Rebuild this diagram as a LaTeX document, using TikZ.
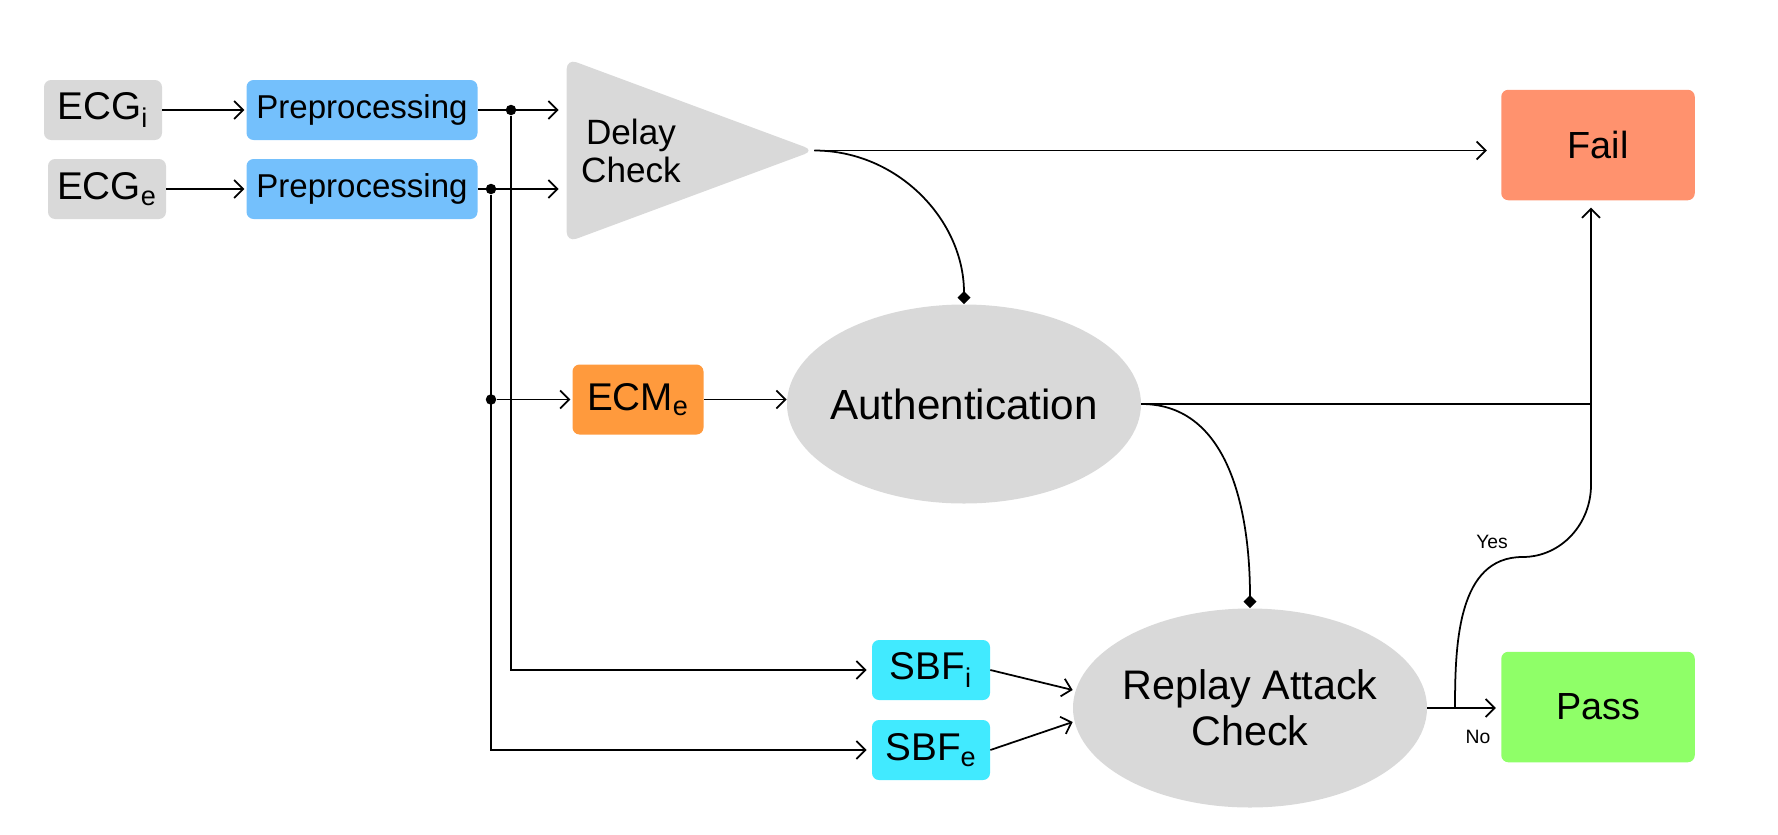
\documentclass[tikz,border=0pt]{standalone}
\usepackage{fontspec}
\setmainfont{Liberation Sans}
\usetikzlibrary{arrows.meta, shapes.geometric}

\definecolor{boxgray}{HTML}{D9D9D9}
\definecolor{preblue}{HTML}{74C0FC}
\definecolor{ecmorange}{HTML}{FF9A3D}
\definecolor{sbfcyan}{HTML}{41EAFF}
\definecolor{failred}{HTML}{FF926E}
\definecolor{passgreen}{HTML}{8FFF68}

\begin{document}
\begin{tikzpicture}[
    signal/.style={rectangle, rounded corners=4pt, inner sep=0pt, minimum width=2.36cm, minimum height=1.2cm, font=\fontsize{22}{26}\selectfont},
    prep/.style={rectangle, rounded corners=4pt, fill=preblue, inner sep=0pt, minimum width=4.62cm, minimum height=1.2cm, font=\fontsize{18.8}{22}\selectfont},
    result/.style={rectangle, rounded corners=4pt, inner sep=0pt, minimum width=3.87cm, minimum height=2.21cm, font=\fontsize{21.5}{26}\selectfont},
    check/.style={ellipse, fill=boxgray, inner xsep=-0.4cm, inner ysep=0pt, minimum width=7.08cm, minimum height=3.98cm, align=center, font=\fontsize{23.5}{26}\selectfont},
    arrow/.style={-{Straight Barb[length=1.8mm,width=3.6mm]}, line width=1pt},
    tap/.style={-{Diamond[length=2.6mm,width=2.6mm]}, line width=1pt},
    line/.style={line width=1pt},
    dot/.style={circle, fill=black, inner sep=0pt, minimum size=2.1mm},
    branch/.style={font=\fontsize{11}{13}\selectfont}
]
    \useasboundingbox (0,0) rectangle (35.56,-16.68);

    % Inputs and preprocessing
    \node[signal, fill=boxgray] (ecgi) at (2.06,-2.20) {ECG\textsubscript{i}};
    \node[signal, fill=boxgray] (ecge) at (2.14,-3.78) {ECG\textsubscript{e}};
    \node[prep] (prei) at (7.24,-2.20) {Preprocessing};
    \node[prep] (pree) at (7.24,-3.78) {Preprocessing};

    % Delay check triangle (text sits left of centre)
    \node[minimum width=4.94cm, minimum height=3.66cm, inner sep=0pt] (delay) at (13.81,-3.01) {};
    \fill[boxgray, rounded corners=6pt] (delay.north west) -- (delay.east) -- (delay.south west) -- cycle;
    \node[align=center, font=\fontsize{20}{22}\selectfont] (delaytxt) at (12.62,-3.02) {Delay\\Check};

    % Checks and outcomes
    \node[signal, fill=ecmorange, minimum width=2.62cm, minimum height=1.4cm] (ecm) at (12.76,-7.99) {ECM\textsubscript{e}};
    \node[check, font=\fontsize{24}{26}\selectfont] (auth) at (19.28,-8.08) {Authentication};
    \node[signal, fill=sbfcyan] (sbfi) at (18.62,-13.40) {SBF\textsubscript{i}};
    \node[signal, fill=sbfcyan] (sbfe) at (18.62,-15.00) {SBF\textsubscript{e}};
    \node[check] (replay) at (25.00,-14.16) {Replay Attack\\Check};
    \node[result, fill=failred] (fail) at (31.96,-2.90) {Fail};
    \node[result, fill=passgreen] (pass) at (31.96,-14.14) {Pass};

    % Junctions
    \node[dot] (ji) at (10.22,-2.20) {};
    \node[dot] (je) at (9.82,-3.78) {};
    \node[dot] (jm) at (9.82,-7.99) {};
    \coordinate (split) at (29.10,-14.16);
    \coordinate (bend) at (30.45,-11.14);
    \coordinate (merge) at (31.82,-9.70);

    % Signal paths
    \draw[arrow, shorten >=1pt] (ecgi) -- (prei);
    \draw[arrow, shorten >=1pt] (ecge) -- (pree);
    \draw[arrow, shorten >=0.16cm] (prei.east) -- (prei.east -| delay.west);
    \draw[arrow, shorten >=0.16cm] (pree.east) -- (pree.east -| delay.west);
    \draw[arrow, shorten >=0.1cm] (ji) |- (sbfi.west);
    \draw[arrow, shorten >=0.1cm] (je) |- (sbfe.west);
    \draw[arrow, shorten >=1pt] (jm) -- (ecm);
    \draw[arrow] (ecm.east) -- (ecm.east -| auth.west);

    % Decisions
    \draw[arrow, shorten >=0.28cm] (delay.east) -- (delay.east -| fail.west);
    \draw[tap] (delay.east) to[out=0, in=90] (auth.north);
    \draw[tap] (auth.east) to[out=0, in=90] (replay.north);
    \draw[line] (auth.east) -- (auth.east -| merge);
    \draw[arrow] (sbfi.east) -- ([yshift=0.36cm]replay.west);
    \draw[arrow] (sbfe.east) -- ([yshift=-0.28cm]replay.west);
    \draw[arrow, shorten >=0.1cm] (replay.east) -- (replay.east -| pass.west);
    \draw[arrow, shorten >=0.14cm] (split) to[out=90, in=180] (bend) to[out=0, in=-90] (merge) -- (merge |- fail.south);

    \node[branch] (yes) at (29.84,-10.84) {Yes};
    \node[branch] (no) at (29.56,-14.74) {No};
\end{tikzpicture}
\end{document}
